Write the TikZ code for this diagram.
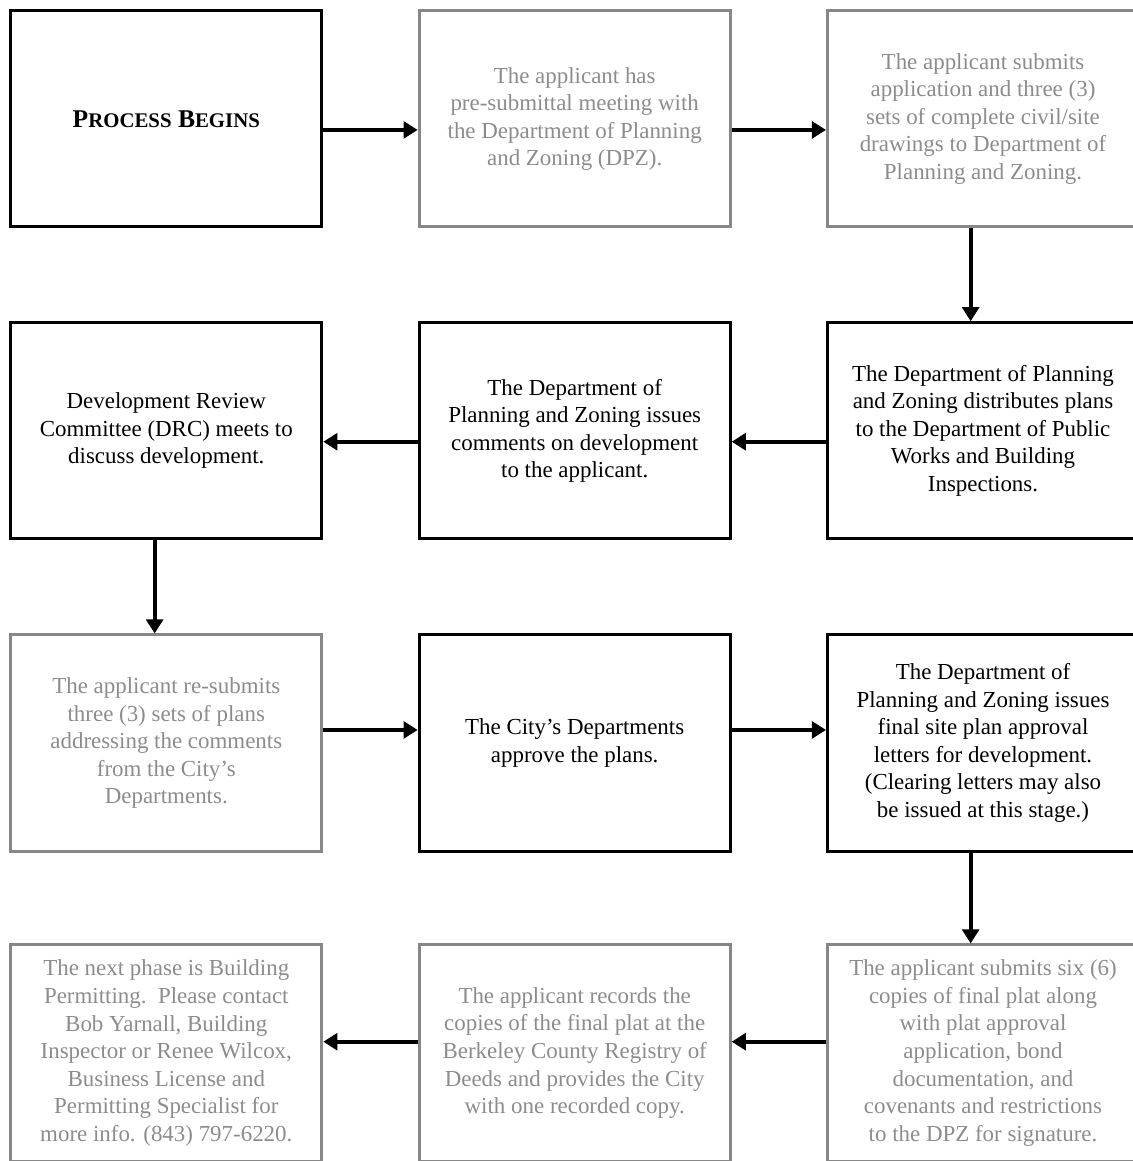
\documentclass[tikz,border=0pt]{standalone}
\usepackage{fontspec}
\setmainfont{Liberation Serif}
\usetikzlibrary{arrows.meta}

\begin{document}
\begin{tikzpicture}
  [x=0.5669pt,y=-0.5669pt,
   box/.style={rectangle,line width=1.7pt,minimum width=176.3pt,minimum height=122.5pt,
     inner sep=0pt,align=center,font=\fontsize{13}{15.6}\selectfont},
   blackbox/.style={box,draw=black,text=black},
   greybox/.style={box,draw=black!47,text=black!45},
   arr/.style={line width=2.1pt,-{Triangle[length=8pt,width=9.5pt]}}]
  \useasboundingbox (0,0) rectangle (1133,1161);

  % first row
  \node[blackbox] (start) at (166.3,118.8)
    {\bfseries\fontsize{14.5}{16}\selectfont P{\fontsize{11.8}{13}\selectfont ROCESS} B{\fontsize{11.8}{13}\selectfont EGINS}};
  \node[greybox] (meet) at (574.7,118.8)
    {The applicant has\\pre-submittal meeting with\\the Department of Planning\\and Zoning (DPZ).};
  \node[greybox] (submit) at (983,118.8)
    {The applicant submits\\application and three (3)\\sets of complete civil/site\\drawings to Department of\\Planning and Zoning.};

  % second row
  \node[blackbox] (distribute) at (983,430.8)
    {The Department of Planning\\and Zoning distributes plans\\to the Department of Public\\Works and Building\\Inspections.};
  \node[blackbox] (comments) at (574.7,430.8)
    {The Department of\\Planning and Zoning issues\\comments on development\\to the applicant.};
  \node[blackbox] (drc) at (166.3,430.8)
    {Development Review\\Committee (DRC) meets to\\discuss development.};

  % third row
  \node[greybox] (resubmit) at (166.3,743)
    {The applicant re-submits\\three (3) sets of plans\\addressing the comments\\from the City’s\\Departments.};
  \node[blackbox] (approve) at (574.7,743)
    {The City’s Departments\\approve the plans.};
  \node[blackbox] (final) at (983,743)
    {The Department of\\Planning and Zoning issues\\final site plan approval\\letters for development.\\(Clearing letters may also\\be issued at this stage.)};

  % fourth row
  \node[greybox] (plat) at (983,1053)
    {The applicant submits six (6)\\copies of final plat along\\with plat approval\\application, bond\\documentation, and\\covenants and restrictions\\to the DPZ for signature.};
  \node[greybox] (record) at (574.7,1053)
    {The applicant records the\\copies of the final plat at the\\Berkeley County Registry of\\Deeds and provides the City\\with one recorded copy.};
  \node[greybox] (next) at (166.3,1053)
    {The next phase is Building\\Permitting.\ \ Please contact\\Bob Yarnall, Building\\Inspector or Renee Wilcox,\\Business License and\\Permitting Specialist for\\more info. (843) 797-6220.};

  \draw[arr] ([yshift=-6.3pt]start.east) -- ([yshift=-6.3pt]meet.west);
  \draw[arr] ([yshift=-6.3pt]meet.east) -- ([yshift=-6.3pt]submit.west);
  \draw[arr] ([xshift=-7pt]submit.south) -- ([xshift=-7pt]distribute.north);
  \draw[arr] ([yshift=-6.2pt]distribute.west) -- ([yshift=-6.2pt]comments.east);
  \draw[arr] ([yshift=-6.2pt]comments.west) -- ([yshift=-6.2pt]drc.east);
  \draw[arr] ([xshift=-6.6pt]drc.south) -- ([xshift=-6.6pt]resubmit.north);
  \draw[arr] ([yshift=7.4pt]resubmit.east) -- ([yshift=7.4pt]approve.west);
  \draw[arr] ([yshift=7.4pt]approve.east) -- ([yshift=7.4pt]final.west);
  \draw[arr] ([xshift=-7pt]final.south) -- ([xshift=-7pt]plat.north);
  \draw[arr] ([yshift=6.4pt]plat.west) -- ([yshift=6.4pt]record.east);
  \draw[arr] ([yshift=6.4pt]record.west) -- ([yshift=6.4pt]next.east);
\end{tikzpicture}
\end{document}
